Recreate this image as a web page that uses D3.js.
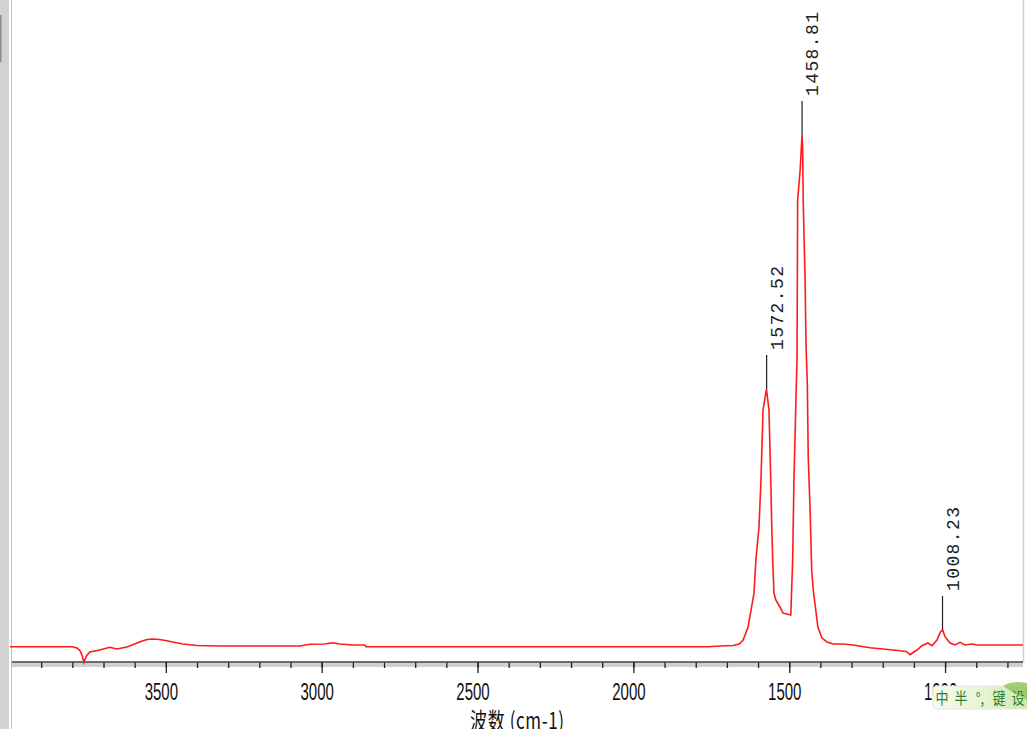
<!DOCTYPE html>
<meta charset="utf-8">
<style>
  body { margin: 0; background: #fff; }
  svg { display: block; }
</style>
<script src="https://d3js.org/d3.v7.min.js"></script>
<div id="spectrum"></div>
<script>

// spectrum (wavenumber cm-1, relative absorbance)
var wavenumbers = [4000, 3800, 3785, 3775, 3768, 3763, 3755, 3744, 3712, 3680, 3657, 3625, 3600, 3583,
  3560, 3542, 3520, 3497, 3470, 3445, 3400, 3327, 3070, 3038, 2990, 2964, 2950, 2942, 2900, 2862, 2858,
  1760, 1722, 1680, 1660, 1648, 1632, 1613, 1607, 1597, 1591, 1584, 1573, 1565, 1559, 1556, 1553, 1549,
  1543, 1530, 1520, 1495, 1489, 1485, 1478, 1475, 1473, 1465, 1459, 1457, 1455, 1449, 1446, 1442, 1439,
  1433, 1428, 1423, 1408, 1395, 1379, 1359, 1327, 1295, 1241, 1199, 1144, 1125, 1112, 1100, 1090, 1074,
  1055, 1042, 1026, 1015, 1008, 1000, 984, 968, 952, 936, 913, 897, 750];
var absorbance = [0.0290, 0.0290, 0.0266, 0.0209, 0.0114, -0.0009, 0.0114, 0.0190, 0.0228, 0.0279, 0.0247, 0.0285, 0.0342, 0.0385,
  0.0427, 0.0436, 0.0427, 0.0404, 0.0370, 0.0342, 0.0313, 0.0304, 0.0304, 0.0336, 0.0342, 0.0366, 0.0351, 0.0342, 0.0323, 0.0323, 0.0290,
  0.0290, 0.0304, 0.0313, 0.0342, 0.0417, 0.0664, 0.1309, 0.1935, 0.2562, 0.3397, 0.4782, 0.5180, 0.4782, 0.3397, 0.2562, 0.1935, 0.1309,
  0.1176, 0.1044, 0.0930, 0.0892, 0.1935, 0.3397, 0.5104, 0.5731, 0.8767, 0.9336, 1.0, 0.9772, 0.8710, 0.7211, 0.5977, 0.5294, 0.3890,
  0.2884, 0.1746, 0.1366, 0.0664, 0.0455, 0.0380, 0.0342, 0.0342, 0.0323, 0.0271, 0.0247, 0.0214, 0.0200, 0.0139, 0.0190, 0.0228, 0.0309,
  0.0361, 0.0309, 0.0417, 0.0569, 0.0607, 0.0480, 0.0361, 0.0323, 0.0374, 0.0323, 0.0342, 0.0323, 0.0323];

var peakLabels = [1572.52, 1458.81, 1008.23];
var majorTicks = [3500, 3000, 2500, 2000, 1500, 1000];
var axisTitle = "波数 (cm-1)";
var imeText = ["中", "半", "°,", "键", "设"];

var W = 1027, H = 729;
var plot = {left: 10, right: 1023, bottom: 662};

var svg = d3.select("#spectrum").append("svg")
  .attr("width", W)
  .attr("height", H);

var x = d3.scaleLinear().domain([4000, 750]).range([plot.left, plot.right]);
var y = d3.scaleLinear().domain([0, 1]).range([plot.bottom, 135]);

// window chrome: grey strip on the left, frame lines
svg.append("rect").attr("x", 0).attr("y", 0).attr("width", 9).attr("height", H).attr("fill", "#d2d2d2");
svg.append("rect").attr("x", 0).attr("y", 15).attr("width", 1.5).attr("height", 47).attr("fill", "#8a8a8a");
svg.append("line").attr("x1", 11.5).attr("x2", 11.5).attr("y1", 0).attr("y2", H)
  .attr("stroke", "#bdbdbd");
svg.append("line").attr("x1", 1023.5).attr("x2", 1023.5).attr("y1", 0).attr("y2", plot.bottom)
  .attr("stroke", "#d0d0d0").attr("stroke-width", 1.5);

// grey band under axis line
svg.append("rect").attr("x", 12).attr("y", plot.bottom).attr("width", plot.right - 12).attr("height", 5)
  .attr("fill", "#d0d0d0");

// minor ticks every 100
var minorTicks = d3.range(3900, 799, -100);
var minorAxis = svg.append("g")
  .attr("transform", "translate(0," + plot.bottom + ")")
  .call(d3.axisBottom(x).tickValues(minorTicks).tickSize(6).tickFormat(""));
minorAxis.select(".domain").remove();
minorAxis.selectAll("line").attr("stroke", "#222").attr("stroke-width", 1.3);

var xAxis = svg.append("g")
  .attr("transform", "translate(0," + plot.bottom + ")")
  .call(d3.axisBottom(x).tickValues(majorTicks).tickSize(11).tickSizeOuter(0).tickFormat(d3.format("d")));
xAxis.select(".domain").attr("stroke", "#444").attr("stroke-width", 1.6)
  .attr("d", "M" + 12 + ",0H" + plot.right);
xAxis.selectAll(".tick line").attr("stroke", "#222").attr("stroke-width", 1.3);
xAxis.selectAll(".tick text")
  .attr("y", 0).attr("dy", 0)
  .attr("transform", "translate(-5,38) scale(1,1.6)")
  .attr("fill", "#111")
  .style("font-family", "'Liberation Sans', Arial, sans-serif")
  .style("font-size", "15px");

svg.append("text")
  .attr("transform", "translate(517,729) scale(1,1.35)")
  .attr("text-anchor", "middle")
  .attr("fill", "#111")
  .attr("textLength", 94)
  .attr("lengthAdjust", "spacing")
  .style("font-family", "'Noto Sans CJK SC', sans-serif")
  .style("font-size", "17px")
  .text(axisTitle);

// spectrum line
var pts = wavenumbers.map(function(d, i) { return [d, absorbance[i]]; });
var line = d3.line()
  .x(function(d) { return x(d[0]); })
  .y(function(d) { return y(d[1]); });

svg.append("path")
  .datum(pts)
  .attr("fill", "none")
  .attr("stroke", "#ff1a1a")
  .attr("stroke-width", 1.6)
  .attr("d", line);

// peak markers
peakLabels.forEach(function(p) {
  var near = pts.filter(function(d) { return Math.abs(d[0] - p) < 15; });
  var top = d3.max(near, function(d) { return d[1]; });
  var px = x(p), py = y(top);
  svg.append("line")
    .attr("x1", px).attr("x2", px)
    .attr("y1", py).attr("y2", py - 34)
    .attr("stroke", "#222").attr("stroke-width", 1.2);
  svg.append("text")
    .attr("transform", "translate(" + (px + 16) + "," + (py - 39) + ") rotate(-90)")
    .attr("fill", "#222")
    .style("font-family", "'Liberation Mono', 'Courier New', monospace")
    .style("font-size", "18px")
    .attr("textLength", 84)
    .attr("lengthAdjust", "spacing")
    .text(p.toFixed(2));
});

// input method bar left over in the screenshot corner
var defs = svg.append("defs");
var g = defs.append("linearGradient").attr("id", "ime");
g.append("stop").attr("offset", "0%").attr("stop-color", "#f7fcef");
g.append("stop").attr("offset", "55%").attr("stop-color", "#e4f3d2");
g.append("stop").attr("offset", "100%").attr("stop-color", "#c9e6a6");

var ime = svg.append("g");
ime.append("rect").attr("x", 933).attr("y", 686).attr("width", 100).attr("height", 23).attr("rx", 4)
  .attr("fill", "url(#ime)").attr("stroke", "#e6e6e6");
ime.append("path").attr("d", "M1003,686 Q1012,680 1027,683 L1027,700 Q1015,694 1003,686Z")
  .attr("fill", "#8fc35a").attr("opacity", 0.8);
ime.selectAll("text.ime")
  .data(imeText)
  .enter().append("text")
  .attr("class", "ime")
  .attr("transform", function(d, i) { return "translate(" + (942 + i * 19) + ",704) scale(1,1.2)"; })
  .attr("text-anchor", "middle")
  .attr("fill", "#2f7d22")
  .style("font-family", "'Noto Sans CJK SC', sans-serif")
  .style("font-size", "13px")
  .text(function(d) { return d; });

</script>
